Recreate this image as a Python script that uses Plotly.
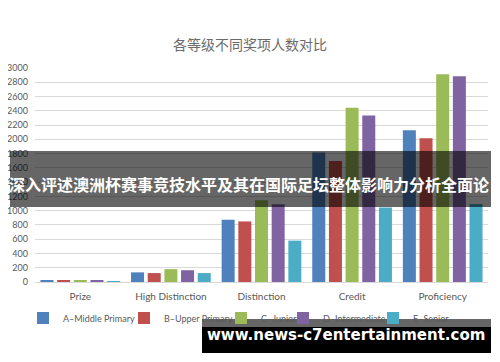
import plotly.graph_objects as go

categories = ["Prize", "High Distinction", "Distinction", "Credit", "Proficiency"]
series_names = ["A–Middle Primary", "B–Upper Primary", "C–Junior", "D–Intermediate", "E–Senior"]
a_middle_primary = [20, 135, 873, 1816, 2127]
b_upper_primary = [18, 125, 849, 1697, 2014]
c_junior = [22, 180, 1146, 2443, 2914]
d_intermediate = [20, 165, 1089, 2334, 2886]
e_senior = [12, 125, 580, 1045, 1095]
y_ticks = list(range(0, 3001, 200))

title_text = "各等级不同奖项人数对比"
banner_text = "深入评述澳洲杯赛事竞技水平及其在国际足坛整体影响力分析全面论"
watermark_text = "www.news-c7entertainment.com"

colors = ["#4F81BD", "#C0504D", "#9BBB59", "#8064A2", "#4BACC6"]
series = [a_middle_primary, b_upper_primary, c_junior, d_intermediate, e_senior]

# page body has an 8px margin; figure is sized to fit the 500x362 window
OFF = 8
W, H = 500 - OFF, 362 - OFF
legend_text_x = [56, 157, 254, 316, 406]  # page x where each legend label starts
legend_names = ["legend", "legend2", "legend3", "legend4", "legend5"]

fig = go.Figure()
for name, vals, col, lg in zip(series_names, series, colors, legend_names):
    fig.add_trace(go.Bar(x=categories, y=vals, name=name, marker_color=col,
                         marker_line_width=0, legend=lg))

grey = "#595959"
legend_cfg = {}
for lg, tx in zip(legend_names, legend_text_x):
    legend_cfg[lg] = dict(orientation="h", x=(tx - 41) / W, xanchor="left", xref="container",
                          y=1 - (318 - OFF) / H, yanchor="middle", yref="container",
                          bgcolor="rgba(0,0,0,0)", font=dict(size=9, color=grey), itemwidth=30)

fig.update_layout(
    width=W, height=H,
    margin=dict(l=35 - OFF, r=W - (488 - OFF), t=68 - OFF, b=H - (282 - OFF), autoexpand=False),
    paper_bgcolor="white", plot_bgcolor="white",
    barmode="group", bargap=0.08, bargroupgap=0.22,
    title=dict(text=title_text, x=(250 - OFF) / W, xanchor="center", y=1 - (45 - OFF) / H, yanchor="middle",
               font=dict(family="Noto Sans CJK SC", size=14, color="#6b6b6b")),
    font=dict(family="Lato, Open Sans, sans-serif", color=grey),
    showlegend=True,
    **legend_cfg,
)
fig.update_yaxes(range=[0, 3000], tickvals=y_ticks, showgrid=True, gridcolor="#D9D9D9",
                 gridwidth=1, zeroline=False, showline=False, tickfont=dict(size=9, color=grey),
                 ticks="", ticklabelstandoff=6, fixedrange=True, automargin=False)
fig.update_xaxes(showline=True, linecolor="#D9D9D9", linewidth=1, ticks="", ticklabelstandoff=5,
                 tickfont=dict(size=10, color=grey), automargin=False)

def px_x(px):
    return (px - 35) / 453

def px_y(py):
    return (282 - py) / 214

fig.add_shape(type="rect", xref="paper", yref="paper", x0=px_x(10), x1=px_x(491),
              y0=px_y(207), y1=px_y(151), fillcolor="rgba(0,0,0,0.6)", line_width=0, layer="above")
fig.add_annotation(xref="paper", yref="paper", x=px_x(249), y=px_y(184), text="<b>" + banner_text + "</b>",
                   showarrow=False, xanchor="center", yanchor="middle",
                   font=dict(family="Noto Sans CJK SC", size=16, color="white"))
fig.add_shape(type="rect", xref="paper", yref="paper", x0=px_x(202), x1=px_x(491),
              y0=px_y(327), y1=px_y(319), fillcolor="rgba(0,0,0,0.6)", line_width=0, layer="above")
fig.add_shape(type="rect", xref="paper", yref="paper", x0=px_x(202), x1=px_x(491),
              y0=px_y(353), y1=px_y(327), fillcolor="black", line_width=0, layer="above")
fig.add_annotation(xref="paper", yref="paper", x=px_x(346), y=px_y(335), text="<b>" + watermark_text + "</b>",
                   showarrow=False, xanchor="center", yanchor="middle",
                   font=dict(family="DejaVu Sans", size=15, color="white"))

fig.write_html("out.html")
